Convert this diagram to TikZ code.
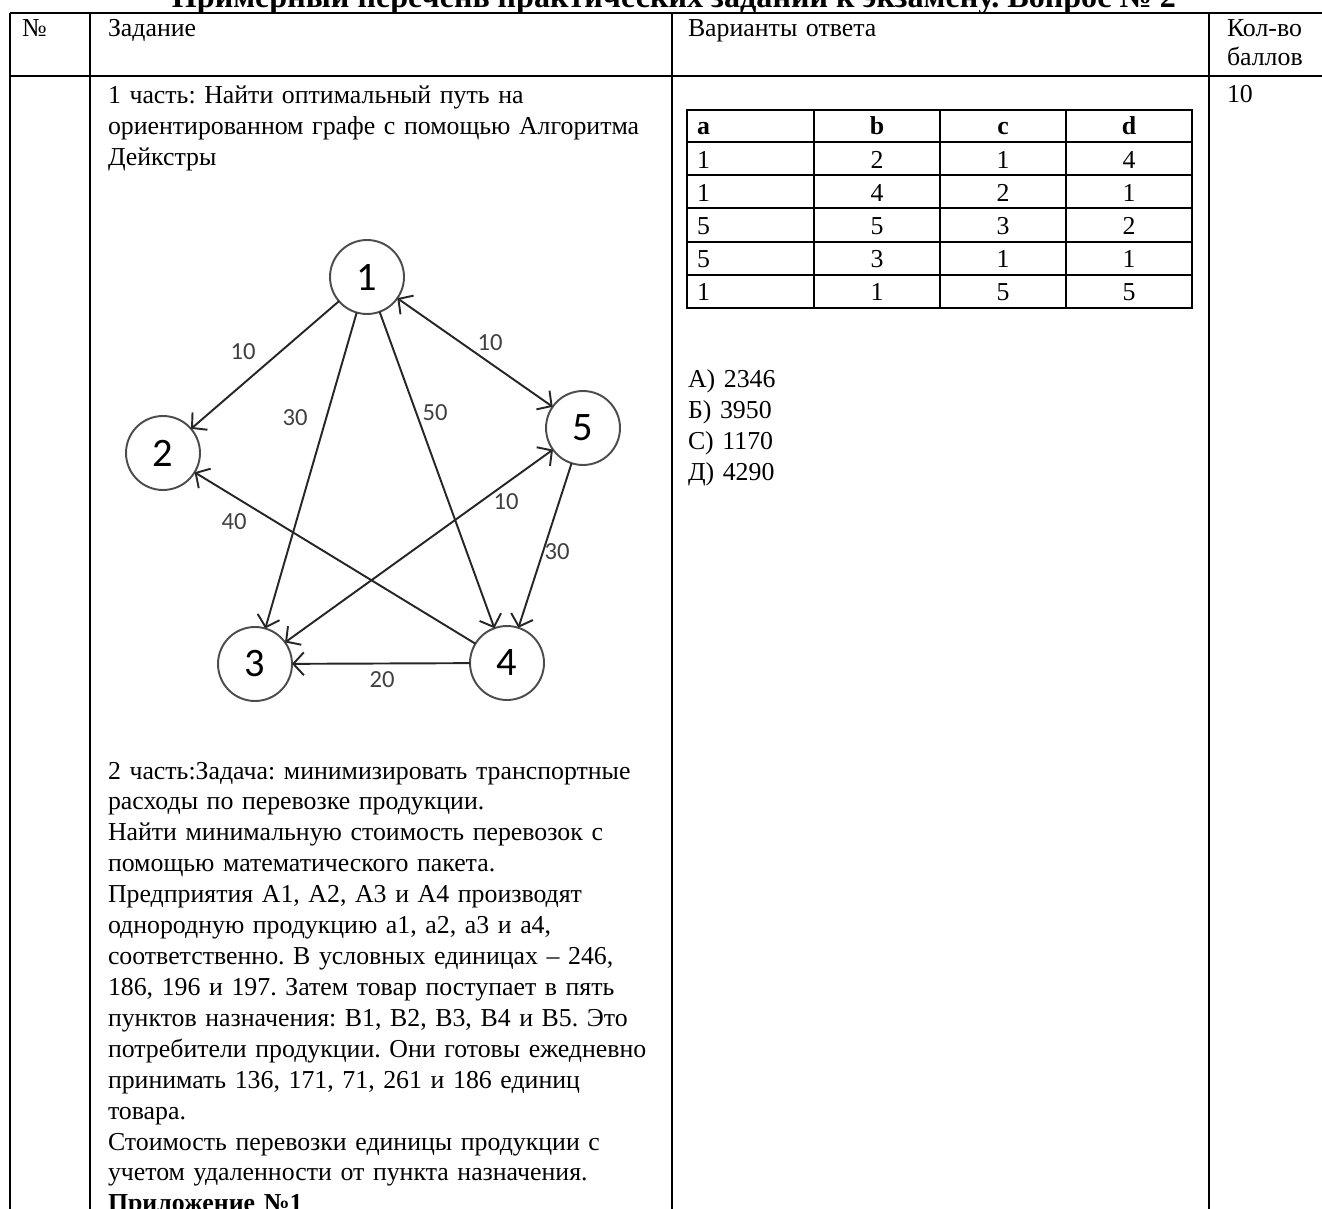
\documentclass[tikz,border=0pt]{standalone}
\usepackage{fontspec}
\setmainfont{Liberation Serif}
\newfontfamily\graphfont{Carlito}
\usetikzlibrary{arrows.meta}

\begin{document}
\frenchspacing
\begin{tikzpicture}[x=0.02cm,y=-0.02cm,
    every node/.style={inner sep=0pt,outer sep=0pt},
    txt/.style={anchor=base west,text width=12cm,align=left,font=\fontsize{14.7}{17.6}\selectfont},
    cell/.style={anchor=base,font=\fontsize{14.7}{17.6}\selectfont},
    headcell/.style={cell,font=\bfseries\fontsize{14.7}{17.6}\selectfont},
    rule/.style={line width=0.6pt},
    vert/.style={circle,draw=black!70,line width=1.1pt,minimum size=1.48cm,font=\graphfont\fontsize{23}{23}\selectfont},
    edge/.style={draw=black!85,line width=1.1pt,-{Straight Barb[length=6pt,width=13pt]}},
    edgeboth/.style={draw=black!85,line width=1.1pt,{Straight Barb[length=6pt,width=13pt]}-{Straight Barb[length=6pt,width=13pt]}},
    wt/.style={font=\graphfont\fontsize{14}{14}\selectfont,text=black!75}]
  \useasboundingbox (0,0) rectangle (1322,1209);
  \clip (0,0) rectangle (1322,1209);

  % title, cut at the top of the page
  \node[anchor=base,font=\bfseries\fontsize{18.3}{18.3}\selectfont] (title) at (674,8)
    {Примерный перечень практических заданий к экзамену. Вопрос № 2};

  % outer table
  \draw[rule] (10,13) -- (1340,13);
  \draw[line width=1.3pt] (10,76) -- (1340,76);
  \draw[rule] (10,13) -- (10,1215);
  \draw[rule] (90,13) -- (90,1215);
  \draw[rule] (672,13) -- (672,1215);
  \draw[rule] (1209,13) -- (1209,1215);

  % header
  \node[txt,text width=2cm] (hnum) at (22,37) {№};
  \node[txt] (htask) at (108,37) {Задание};
  \node[txt] (hans) at (688,37) {Варианты ответа};
  \node[txt,text width=2cm,font=\fontsize{14.7}{16}\selectfont] (hpts) at (1227,37) {Кол-во\\баллов};

  % part 1
  \node[txt] (part1) at (108,104)
    {1 часть: Найти оптимальный путь на\\ориентированном графе с помощью Алгоритма\\Дейкстры};
  \node[txt,text width=2cm] (pts) at (1227,103) {10};

  % graph
  \node[vert] (v1) at (367,277) {1};
  \node[vert] (v2) at (163,453) {2};
  \node[vert] (v3) at (255,664) {3};
  \node[vert] (v4) at (507,663) {4};
  \node[vert] (v5) at (583,428) {5};
  \draw[edge] (v1) -- (v2);
  \draw[edge] (v1) -- (v3);
  \draw[edge] (v1) -- (v4);
  \draw[edgeboth] (v1) -- (v5);
  \draw[edge] (v4) -- (v2);
  \draw[edgeboth] (v3) -- (v5);
  \draw[edge] (v5) -- (v4);
  \draw[edge] (v4) -- (v3);
  \node[wt] (w12) at (243,352) {10};
  \node[wt] (w13) at (295,418) {30};
  \node[wt] (w14) at (435,413) {50};
  \node[wt] (w15) at (490,343) {10};
  \node[wt] (w42) at (234,522) {40};
  \node[wt] (w35) at (506,502) {10};
  \node[wt] (w54) at (557,552) {30};
  \node[wt] (w43) at (382,680) {20};

  % part 2
  \node[txt] (part2) at (108,779)
    {2 часть:Задача: минимизировать транспортные\\
     расходы по перевозке продукции.\\
     Найти минимальную стоимость перевозок с\\
     помощью математического пакета.\\
     Предприятия А1, А2, А3 и А4 производят\\
     однородную продукцию а1, а2, а3 и а4,\\
     соответственно. В условных единицах – 246,\\
     186, 196 и 197. Затем товар поступает в пять\\
     пунктов назначения: В1, В2, В3, В4 и В5. Это\\
     потребители продукции. Они готовы ежедневно\\
     принимать 136, 171, 71, 261 и 186 единиц\\
     товара.\\
     Стоимость перевозки единицы продукции с\\
     учетом удаленности от пункта назначения.\\
     \textbf{Приложение №1}};

  % answer table
  \draw[rule] (687,110) rectangle (1192,308);
  \foreach \yy in {142,175,208,242,275}
    \draw[rule] (687,\yy) -- (1192,\yy);
  \foreach \xx in {814,940,1066}
    \draw[rule] (\xx,110) -- (\xx,308);
  \node[headcell,anchor=base west] (ha) at (697,135) {a};
  \node[headcell] (hb) at (877,135) {b};
  \node[headcell] (hc) at (1003,135) {c};
  \node[headcell] (hd) at (1129,135) {d};
  \foreach \va/\vb/\vc/\vd [count=\r] in {1/2/1/4,1/4/2/1,5/5/3/2,5/3/1/1,1/1/5/5} {
    \node[cell,anchor=base west] (a\r) at (697,{135+33.2*\r}) {\va};
    \node[cell] (b\r) at (877,{135+33.2*\r}) {\vb};
    \node[cell] (c\r) at (1003,{135+33.2*\r}) {\vc};
    \node[cell] (d\r) at (1129,{135+33.2*\r}) {\vd};
  }

  % answers
  \node[txt] (answers) at (688,388) {А) 2346\\Б) 3950\\С) 1170\\Д) 4290};
\end{tikzpicture}
\end{document}
